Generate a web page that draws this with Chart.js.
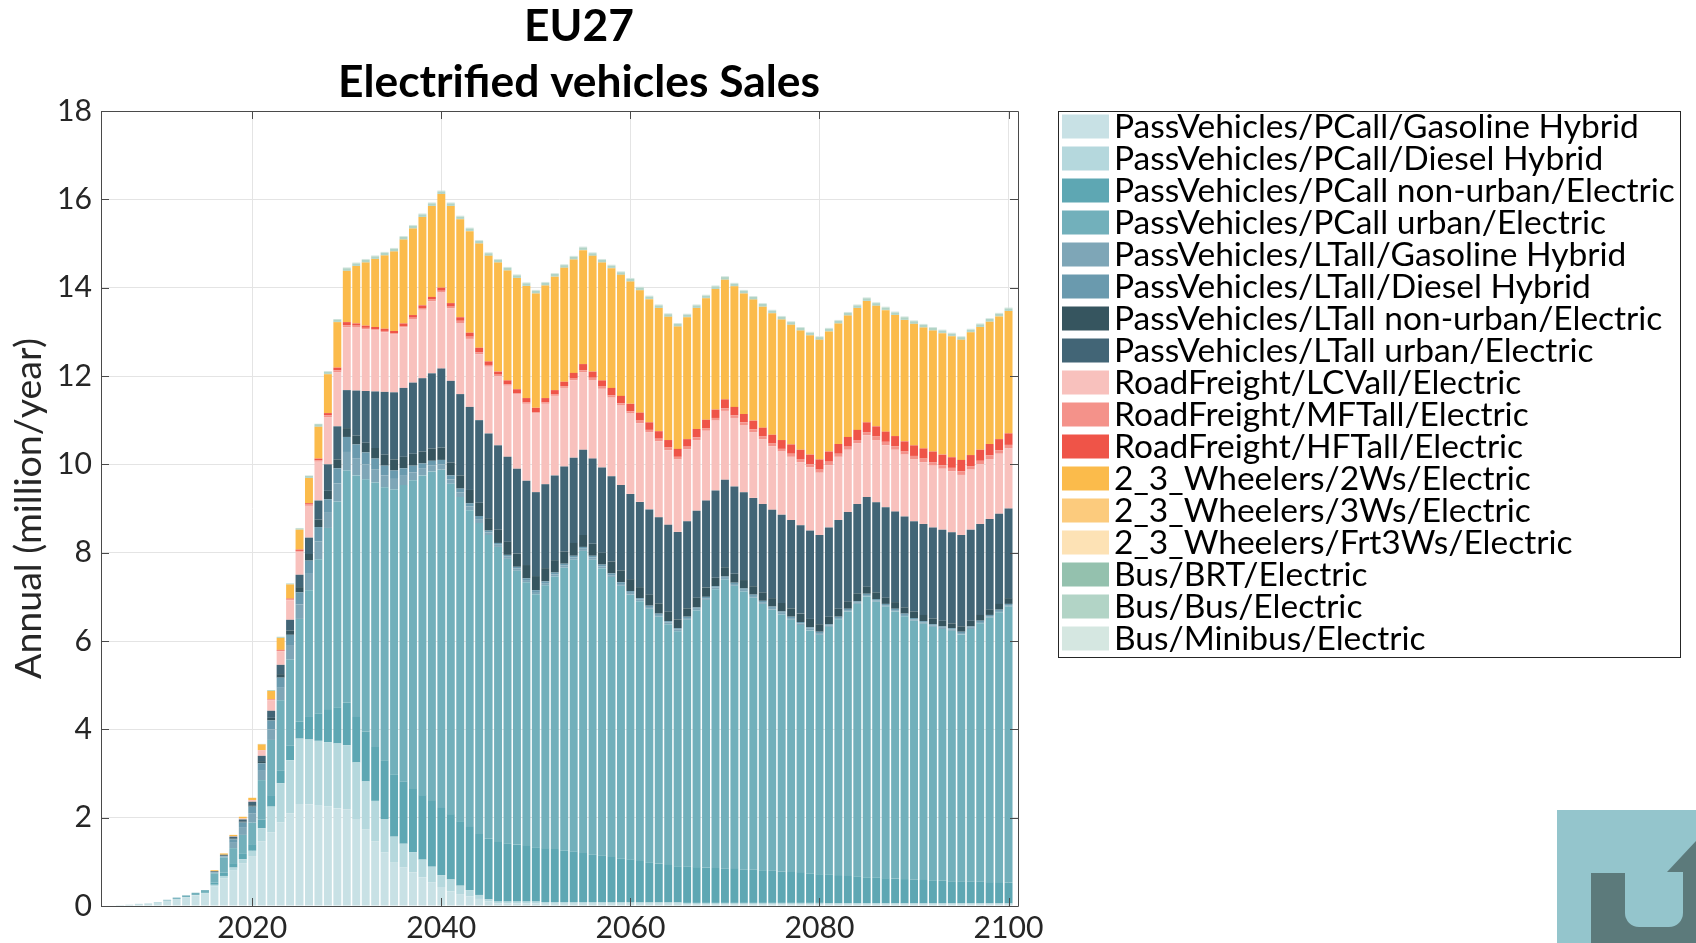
<!DOCTYPE html>
<html>
<head>
<meta charset="utf-8">
<script src="https://cdn.jsdelivr.net/npm/chart.js@4.4.1/dist/chart.umd.min.js"></script>
<style>
html,body{margin:0;padding:0;background:#ffffff;}
#wrap{width:1696px;height:943px;position:relative;}
</style>
</head>
<body>
<div id="wrap"><canvas id="c" width="1696" height="943"></canvas></div>
<script>
// ---------------- DATA ----------------
const years = [
 2005,2006,2007,2008,2009,2010,2011,2012,2013,2014,
 2015,2016,2017,2018,2019,2020,2021,2022,2023,2024,
 2025,2026,2027,2028,2029,2030,2031,2032,2033,2034,
 2035,2036,2037,2038,2039,2040,2041,2042,2043,2044,
 2045,2046,2047,2048,2049,2050,2051,2052,2053,2054,
 2055,2056,2057,2058,2059,2060,2061,2062,2063,2064,
 2065,2066,2067,2068,2069,2070,2071,2072,2073,2074,
 2075,2076,2077,2078,2079,2080,2081,2082,2083,2084,
 2085,2086,2087,2088,2089,2090,2091,2092,2093,2094,
 2095,2096,2097,2098,2099,2100];

const xTickValues = [2020, 2040, 2060, 2080, 2100];
const yTickValues = [0, 2, 4, 6, 8, 10, 12, 14, 16, 18];

const pcallGasHybrid = [
 .01,.02,.03,.05,.06,.07,.12,.16,.2,.24,
 .28,.44,.63,.8,.97,1.13,1.46,1.67,1.89,2.1,
 2.31,2.3,2.27,2.25,2.21,2.19,1.97,1.73,1.46,1.21,
 .98,.87,.76,.65,.54,.43,.33,.27,.22,.16,
 .1,.06,.06,.06,.06,.06,.05,.05,.05,.05,
 .05,.05,.05,.05,.05,.05,.05,.05,.05,.05,
 .05,.04,.04,.04,.04,.04,.04,.04,.04,.04,
 .04,.04,.04,.04,.04,.04,.03,.03,.03,.03,
 .03,.03,.03,.03,.03,.03,.03,.03,.03,.03,
 .03,.03,.03,.03,.03,.03];
const pcallDieselHybrid = [
 0,0,0,0,0,0,0,0,0,.01,
 .01,.04,.05,.07,.09,.12,.3,.58,.89,1.2,
 1.48,1.47,1.47,1.46,1.47,1.45,1.28,1.09,.92,.76,
 .59,.54,.46,.4,.35,.27,.27,.19,.14,.09,
 .05,.04,.04,.04,.04,.04,.04,.04,.04,.04,
 .04,.04,.04,.04,.04,.04,.03,.03,.03,.03,
 .03,.03,.03,.03,.03,.03,.03,.03,.03,.03,
 .03,.03,.03,.03,.03,.03,.03,.03,.03,.03,
 .03,.03,.03,.03,.03,.03,.03,.03,.03,.03,
 .03,.03,.03,.03,.03,.03];
const pcallNonUrbanElectric = [
 0,0,0,0,0,0,0,0,0,0,
 .02,.05,.08,.1,.12,.15,.2,.26,.28,.33,
 .38,.51,.62,.73,.82,.96,1.03,1.13,1.22,1.33,
 1.41,1.41,1.43,1.46,1.49,1.52,1.48,1.46,1.43,1.38,
 1.37,1.35,1.32,1.29,1.26,1.23,1.22,1.2,1.17,1.14,
 1.11,1.08,1.05,1.02,.99,.96,.94,.91,.88,.85,
 .82,.82,.81,.8,.79,.78,.77,.76,.75,.74,
 .73,.71,.7,.68,.67,.65,.65,.64,.62,.61,
 .59,.58,.57,.56,.55,.54,.53,.52,.51,.5,
 .5,.49,.49,.48,.48,.47];
const pcallUrbanElectric = [
 0,0,0,0,0,.01,.02,.03,.04,.05,
 .05,.21,.34,.34,.43,.49,.89,1.25,1.6,1.95,
 2.33,2.87,3.49,4.12,4.66,5.26,5.47,5.71,5.99,6.18,
 6.45,6.71,6.99,7.24,7.46,7.66,7.48,7.34,7.17,7.04,
 6.88,6.68,6.44,6.2,5.97,5.73,5.95,6.17,6.4,6.61,
 6.84,6.67,6.51,6.34,6.17,6.0,5.88,5.74,5.59,5.45,
 5.32,5.59,5.81,6.06,6.31,6.54,6.41,6.29,6.16,6.03,
 5.91,5.82,5.71,5.61,5.5,5.42,5.61,5.79,5.99,6.17,
 6.36,6.25,6.15,6.05,5.95,5.86,5.8,5.74,5.7,5.67,
 5.59,5.72,5.85,5.99,6.11,6.25];
const ltallGasHybrid = [
 0,0,0,0,0,0,0,0,0,0,
 0,.02,.02,.12,.16,.2,.21,.24,.28,.31,
 .33,.37,.4,.36,.41,.42,.39,.34,.3,.27,
 .24,.21,.18,.15,.13,.12,.1,.1,.09,.09,
 .06,.05,.05,.05,.05,.05,.05,.05,.05,.05,
 .05,.05,.04,.04,.04,.04,.04,.04,.04,.04,
 .04,.04,.04,.04,.04,.04,.04,.04,.04,.04,
 .04,.04,.04,.04,.04,.04,.03,.03,.03,.03,
 .03,.03,.03,.03,.03,.03,.03,.03,.03,.03,
 .03,.03,.03,.03,.03,.03];
const ltallDieselHybrid = [
 0,0,0,0,0,0,0,0,0,0,
 0,.01,.01,.08,.12,.16,.17,.2,.23,.25,
 .27,.3,.33,.29,.34,.34,.31,.27,.24,.22,
 .19,.17,.15,.12,.11,.1,.09,.09,.07,.07,
 .04,.04,.04,.04,.04,.04,.04,.04,.04,.04,
 .04,.04,.04,.04,.04,.04,.03,.03,.03,.03,
 .03,.03,.03,.03,.03,.03,.03,.03,.03,.03,
 .03,.03,.03,.03,.03,.03,.03,.03,.03,.03,
 .03,.03,.03,.03,.03,.03,.03,.03,.03,.03,
 .03,.03,.03,.03,.03,.03];
const ltallNonUrbanElectric = [
 0,0,0,0,0,0,0,0,0,0,
 0,.01,.01,.02,.02,.03,.05,.06,.08,.1,
 .12,.15,.17,.19,.2,.2,.2,.22,.24,.25,
 .25,.26,.27,.27,.28,.28,.29,.3,.3,.3,
 .28,.3,.3,.3,.3,.32,.3,.28,.28,.29,
 .27,.27,.27,.27,.27,.27,.25,.25,.23,.22,
 .2,.19,.22,.21,.19,.21,.2,.19,.19,.19,
 .19,.19,.19,.19,.19,.17,.17,.18,.17,.18,
 .16,.15,.14,.15,.14,.15,.14,.13,.13,.11,
 .12,.13,.13,.12,.13,.13];
const ltallUrbanElectric = [
 0,0,0,0,0,0,0,0,0,0,
 0,.01,.02,.04,.05,.08,.12,.16,.21,.24,
 .28,.37,.43,.6,.75,.86,1.02,1.17,1.28,1.42,
 1.52,1.56,1.61,1.66,1.7,1.79,1.85,1.84,1.88,1.87,
 1.92,1.91,1.92,1.92,1.91,1.9,1.9,1.92,1.92,1.93,
 1.93,1.93,1.93,1.93,1.93,1.93,1.93,1.93,1.95,1.96,
 1.98,1.97,1.97,1.97,1.98,1.98,1.98,1.99,2.0,2.0,
 2.0,2.0,2.0,2.0,2.0,2.02,2.02,2.01,2.02,2.02,
 2.03,2.04,2.05,2.05,2.06,2.04,2.06,2.06,2.06,2.06,
 2.07,2.06,2.06,2.05,2.04,2.03];
const lcvElectric = [
 0,0,0,0,0,0,0,0,0,0,
 0,0,0,.01,.02,.04,.12,.24,.31,.44,
 .52,.72,.88,1.07,1.22,1.42,1.44,1.4,1.38,1.35,
 1.31,1.37,1.44,1.55,1.63,1.72,1.64,1.61,1.54,1.49,
 1.51,1.57,1.61,1.68,1.74,1.78,1.82,1.8,1.78,1.75,
 1.75,1.78,1.78,1.78,1.8,1.82,1.78,1.75,1.72,1.69,
 1.64,1.63,1.6,1.58,1.58,1.56,1.55,1.52,1.49,1.47,
 1.44,1.43,1.43,1.43,1.43,1.41,1.41,1.43,1.41,1.38,
 1.4,1.41,1.4,1.4,1.4,1.4,1.4,1.4,1.38,1.38,
 1.36,1.36,1.35,1.36,1.36,1.36];
const mftElectric = [
 0,0,0,0,0,0,0,0,0,0,
 0,0,0,0,0,0,.01,.01,.01,.02,
 .02,.03,.03,.04,.05,.05,.03,.03,.03,.03,
 .03,.03,.03,.04,.04,.04,.04,.05,.05,.05,
 .04,.03,.03,.03,.03,.03,.03,.03,.04,.04,
 .05,.05,.05,.05,.05,.05,.06,.05,.06,.06,
 .06,.06,.06,.06,.06,.06,.06,.06,.06,.06,
 .06,.06,.07,.07,.07,.07,.08,.07,.07,.07,
 .07,.08,.08,.08,.07,.08,.08,.08,.08,.08,
 .08,.08,.08,.08,.08,.08];
const hftElectric = [
 0,0,0,0,0,0,0,0,0,0,
 0,0,0,0,0,0,0,.01,.02,.02,
 .03,.03,.04,.05,.06,.07,.05,.05,.05,.05,
 .05,.06,.06,.06,.06,.07,.08,.08,.09,.1,
 .08,.07,.09,.09,.1,.1,.1,.1,.1,.13,
 .14,.14,.14,.17,.17,.17,.18,.17,.17,.17,
 .18,.17,.19,.19,.19,.2,.19,.19,.2,.2,
 .2,.2,.21,.21,.22,.23,.23,.22,.22,.23,
 .22,.23,.23,.23,.23,.24,.23,.24,.24,.24,
 .26,.25,.25,.26,.25,.26];
const twoWheelers = [
 0,0,0,0,0,0,0,0,0,0,
 0,.02,.03,.03,.04,.05,.13,.19,.27,.32,
 .45,.57,.72,.88,1.03,1.16,1.3,1.43,1.54,1.66,
 1.8,1.9,1.96,2.0,2.06,2.12,2.2,2.22,2.3,2.36,
 2.39,2.47,2.49,2.52,2.54,2.59,2.55,2.57,2.58,2.57,
 2.58,2.62,2.67,2.71,2.74,2.77,2.77,2.79,2.79,2.79,
 2.77,2.76,2.74,2.75,2.73,2.71,2.73,2.73,2.74,2.74,
 2.75,2.73,2.71,2.7,2.7,2.71,2.72,2.73,2.75,2.76,
 2.75,2.73,2.75,2.74,2.75,2.75,2.74,2.74,2.75,2.74,
 2.72,2.78,2.78,2.77,2.78,2.77];
const threeWheelers = [
 0,0,0,0,0,0,0,0,0,0,
 0,0,0,0,0,0,0,0,0,0,
 0,0,0,0,0,0,0,0,0,0,
 0,0,0,0,0,0,0,0,0,0,
 0,0,0,0,0,0,0,0,0,0,
 0,0,0,0,0,0,0,0,0,0,
 0,0,0,0,0,0,0,0,0,0,
 0,0,0,0,0,0,0,0,0,0,
 0,0,0,0,0,0,0,0,0,0,
 0,0,0,0,0,0];
const freight3Wheelers = [
 0,0,0,0,0,0,0,0,0,0,
 0,0,0,0,0,0,0,0,0,0,
 0,0,0,0,0,0,0,0,0,0,
 0,0,0,0,0,0,0,0,0,0,
 0,0,0,0,0,0,0,0,0,0,
 0,0,0,0,0,0,0,0,0,0,
 0,0,0,0,0,0,0,0,0,0,
 0,0,0,0,0,0,0,0,0,0,
 0,0,0,0,0,0,0,0,0,0,
 0,0,0,0,0,0];
const busBRT = [
 0,0,0,0,0,0,0,0,0,0,
 0,0,0,0,0,0,0,0,0,0,
 0,.01,.01,.01,.01,.01,.01,.01,.01,.01,
 .01,.01,.01,.01,.01,.01,.01,.01,.01,.01,
 .01,.01,.01,.01,.01,.01,.01,.01,.01,.01,
 .01,.01,.01,.01,.01,.01,.01,.01,.01,.01,
 .01,.01,.01,.01,.01,.01,.01,.01,.01,.01,
 .01,.01,.01,.01,.01,.01,.01,.01,.01,.01,
 .01,.01,.01,.01,.01,.01,.01,.01,.01,.01,
 .01,.01,.01,.01,.01,.01];
const busBus = [
 0,0,0,0,0,0,0,0,0,0,
 0,0,0,0,0,0,.01,.02,.02,.02,
 .03,.04,.05,.05,.05,.05,.05,.05,.05,.05,
 .05,.05,.05,.05,.05,.05,.05,.05,.05,.05,
 .05,.05,.05,.05,.05,.05,.05,.05,.05,.05,
 .05,.05,.05,.05,.05,.05,.05,.05,.05,.05,
 .05,.05,.05,.05,.05,.05,.05,.05,.05,.05,
 .05,.05,.05,.05,.05,.05,.05,.05,.05,.05,
 .05,.05,.05,.05,.05,.05,.05,.05,.05,.05,
 .05,.05,.05,.05,.05,.05];
const busMinibus = [
 0,0,0,0,0,0,0,0,0,0,
 0,0,0,0,0,0,0,0,.01,.01,
 .01,.01,.01,.01,.01,.02,.02,.02,.02,.02,
 .02,.02,.02,.02,.02,.02,.02,.02,.02,.02,
 .02,.02,.02,.02,.02,.02,.02,.02,.02,.02,
 .02,.02,.02,.02,.02,.02,.02,.02,.02,.02,
 .02,.02,.02,.02,.02,.02,.02,.02,.02,.02,
 .02,.02,.02,.02,.02,.02,.02,.02,.02,.02,
 .02,.02,.02,.02,.02,.02,.02,.02,.02,.02,
 .02,.02,.02,.02,.02,.02];

const seriesNames = [
 'PassVehicles/PCall/Gasoline Hybrid',
 'PassVehicles/PCall/Diesel Hybrid',
 'PassVehicles/PCall non-urban/Electric',
 'PassVehicles/PCall urban/Electric',
 'PassVehicles/LTall/Gasoline Hybrid',
 'PassVehicles/LTall/Diesel Hybrid',
 'PassVehicles/LTall non-urban/Electric',
 'PassVehicles/LTall urban/Electric',
 'RoadFreight/LCVall/Electric',
 'RoadFreight/MFTall/Electric',
 'RoadFreight/HFTall/Electric',
 '2_3_Wheelers/2Ws/Electric',
 '2_3_Wheelers/3Ws/Electric',
 '2_3_Wheelers/Frt3Ws/Electric',
 'Bus/BRT/Electric',
 'Bus/Bus/Electric',
 'Bus/Minibus/Electric'];
const seriesValues = [pcallGasHybrid, pcallDieselHybrid, pcallNonUrbanElectric, pcallUrbanElectric,
 ltallGasHybrid, ltallDieselHybrid, ltallNonUrbanElectric, ltallUrbanElectric,
 lcvElectric, mftElectric, hftElectric, twoWheelers, threeWheelers, freight3Wheelers,
 busBRT, busBus, busMinibus];
const seriesColors = ['#c8e1e5','#b5d8dd','#5ea7b3','#72b0bb','#7ea6b7','#6a9aae','#36555f','#426576',
 '#f8c1bd','#f4928a','#ef5448','#fbbb4b','#fccb7d','#fde2b5','#94c1ae','#b2d4c6','#d5e7e1'];

// ---------------- STYLE / LAYOUT ----------------
const FAMILY = 'Lato';
const mctx = document.createElement('canvas').getContext('2d');
function fitSize(text, weight, target) {
  mctx.font = weight + ' 100px ' + FAMILY;
  return 100 * target / mctx.measureText(text).width;
}
const tickSize = fitSize('2020', 'normal', 70);
const yTitleSize = fitSize('Annual (million/year)', 'normal', 341);
const legendSize = fitSize('PassVehicles/PCall non-urban/Electric', 'normal', 561);
const titleSize = fitSize('Electrified vehicles Sales', 'bold', 482);

const AXIS_COLOR = '#4a4a4a';
const TEXT_COLOR = '#262626';

const framePlugin = {
  id: 'frame',
  afterDatasetsDraw(chart) {
    const {ctx, chartArea: a, scales} = chart;
    ctx.save();
    ctx.strokeStyle = AXIS_COLOR;
    ctx.lineWidth = 1;
    ctx.beginPath();
    ctx.rect(Math.round(a.left) + 0.5, Math.round(a.top) + 0.5, Math.round(a.right - a.left), Math.round(a.bottom - a.top));
    ctx.stroke();
    const L = 8;
    ctx.beginPath();
    yTickValues.forEach(v => {
      const py = Math.round(scales.y.getPixelForValue(v)) + 0.5;
      ctx.moveTo(a.left, py); ctx.lineTo(a.left + L, py);
      ctx.moveTo(a.right, py); ctx.lineTo(a.right - L, py);
    });
    xTickValues.forEach(v => {
      const px = Math.round(scales.x.getPixelForValue(v)) + 0.5;
      ctx.moveTo(px, a.bottom); ctx.lineTo(px, a.bottom - L);
      ctx.moveTo(px, a.top); ctx.lineTo(px, a.top + L);
    });
    ctx.stroke();
    ctx.restore();
  }
};

const titlePlugin = {
  id: 'titleText',
  afterDraw(chart) {
    const ctx = chart.ctx;
    ctx.save();
    ctx.fillStyle = '#000000';
    ctx.textAlign = 'center';
    ctx.textBaseline = 'alphabetic';
    ctx.font = 'bold ' + titleSize + 'px ' + FAMILY;
    ctx.fillText('EU27', 579, 41);
    ctx.fillText('Electrified vehicles Sales', 579, 97);
    ctx.restore();
  }
};

const legendPlugin = {
  id: 'boxLegend',
  afterDraw(chart) {
    const ctx = chart.ctx;
    ctx.save();
    ctx.strokeStyle = '#262626';
    ctx.lineWidth = 1;
    ctx.strokeRect(1058.5, 111.5, 622, 546);
    ctx.font = legendSize + 'px ' + FAMILY;
    ctx.textBaseline = 'middle';
    ctx.textAlign = 'left';
    chart.data.datasets.forEach((ds, i) => {
      const cy = 126.5 + i * 32.0;
      ctx.fillStyle = ds.backgroundColor;
      ctx.fillRect(1062, cy - 12, 47, 24);
      ctx.fillStyle = '#000000';
      ctx.fillText(ds.label, 1114, cy + 1);
    });
    ctx.restore();
  }
};

const logoPlugin = {
  id: 'logo',
  afterDraw(chart) {
    const ctx = chart.ctx;
    ctx.save();
    ctx.fillStyle = '#94c5cc';
    ctx.fillRect(1557, 810, 139, 133);
    ctx.fillStyle = '#5c7a7b';
    ctx.fillRect(1591, 873, 105, 70);
    ctx.fillStyle = '#94c5cc';
    ctx.beginPath();
    ctx.moveTo(1625, 873);
    ctx.lineTo(1683, 873);
    ctx.lineTo(1683, 913);
    ctx.arcTo(1683, 927, 1669, 927, 14);
    ctx.lineTo(1639, 927);
    ctx.arcTo(1625, 927, 1625, 913, 14);
    ctx.closePath();
    ctx.fill();
    ctx.fillStyle = '#5c7a7b';
    ctx.beginPath();
    ctx.moveTo(1667, 872);
    ctx.lineTo(1696, 841);
    ctx.lineTo(1696, 872);
    ctx.closePath();
    ctx.fill();
    ctx.fillRect(1683, 871, 13, 4);
    ctx.restore();
  }
};

const chart = new Chart(document.getElementById('c'), {
  type: 'bar',
  data: {
    labels: years,
    datasets: seriesValues.map((vals, i) => ({
      label: seriesNames[i],
      data: vals,
      backgroundColor: seriesColors[i],
      borderWidth: 0,
      barPercentage: 0.84,
      categoryPercentage: 1.0
    }))
  },
  options: {
    responsive: false,
    animation: false,
    devicePixelRatio: 1,
    layout: {padding: {left: 0, right: 678, top: 111, bottom: 0}},
    plugins: {legend: {display: false}, tooltip: {enabled: false}, title: {display: false}},
    scales: {
      x: {
        type: 'linear', stacked: true, min: 2004, max: 2101, offset: false,
        afterBuildTicks: s => { s.ticks = xTickValues.map(v => ({value: v})); },
        afterFit: s => { s.height = 37; },
        grid: {color: '#e4e4e4', lineWidth: 1, drawTicks: false, offset: false},
        border: {display: false},
        ticks: {font: {family: FAMILY, size: tickSize, lineHeight: 1.2}, color: TEXT_COLOR, padding: 4,
                maxRotation: 0, autoSkip: false, callback: v => String(v)}
      },
      y: {
        stacked: true, min: 0, max: 18,
        afterBuildTicks: s => { s.ticks = yTickValues.map(v => ({value: v})); },
        afterFit: s => { s.width = 101; },
        grid: {color: '#e4e4e4', lineWidth: 1, drawTicks: false},
        border: {display: false},
        ticks: {font: {family: FAMILY, size: tickSize}, color: TEXT_COLOR, padding: 9},
        title: {display: true, text: 'Annual (million/year)', color: TEXT_COLOR,
                font: {family: FAMILY, size: yTitleSize, lineHeight: 1.2},
                padding: {top: 29 - yTitleSize * 0.6, bottom: 0}}
      }
    }
  },
  plugins: [framePlugin, titlePlugin, legendPlugin, logoPlugin]
});
</script>
</body>
</html>
